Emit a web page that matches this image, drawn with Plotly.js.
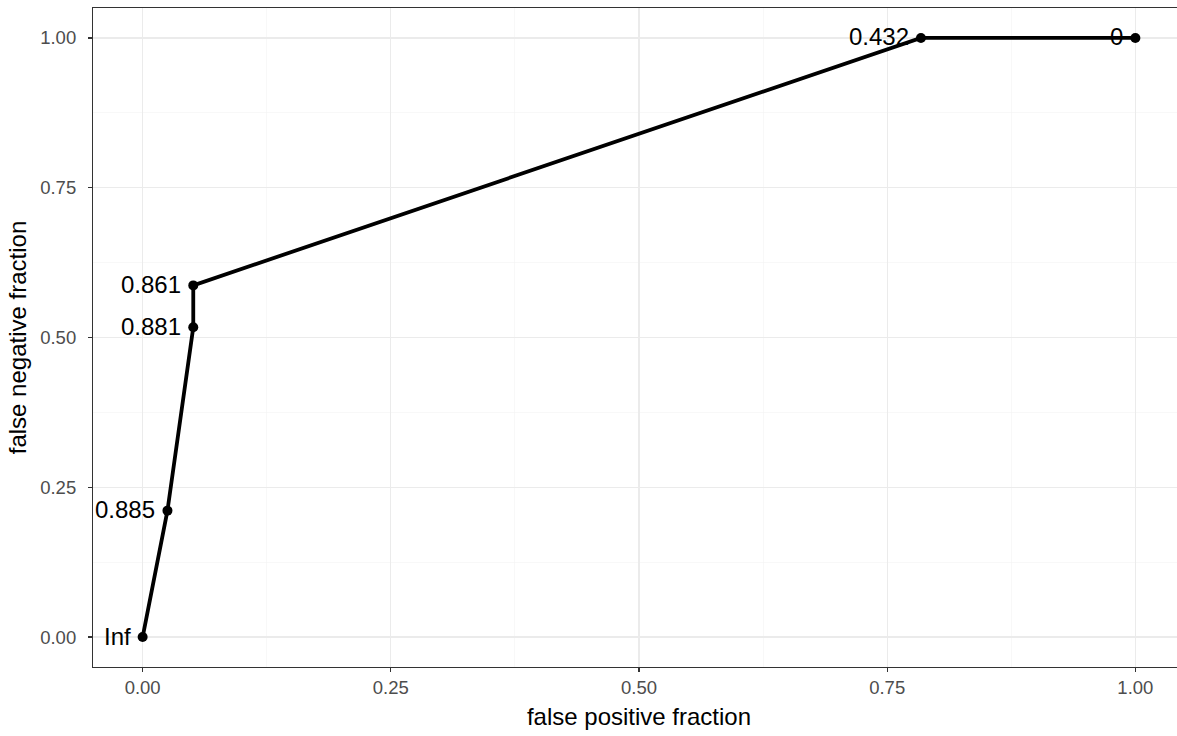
<!DOCTYPE html>
<html>
<head>
<meta charset="utf-8">
<script src="https://cdn.plot.ly/plotly-3.0.1.min.js"></script>
<style>html,body{margin:0;padding:0;background:#fff;overflow:hidden;}#chart{width:1192px;height:736px;}</style>
</head>
<body>
<div id="chart"></div>
<script>
var fpf = [0, 0.025, 0.051, 0.051, 0.784, 1];
var fnf = [0, 0.211, 0.517, 0.587, 1, 1];
var cutoffs = ["Inf", "0.885", "0.881", "0.861", "0.432", "0"];
var tickVals = [0, 0.25, 0.5, 0.75, 1];
var tickText = ["0.00", "0.25", "0.50", "0.75", "1.00"];

var FONT = "Liberation Sans, Arial, sans-serif";

var trace = {
  x: fpf, y: fnf, mode: "lines+markers", type: "scatter",
  line: {color: "#000", width: 3.8},
  marker: {color: "#000", size: 10},
  hoverinfo: "skip", showlegend: false
};

var annotations = cutoffs.map(function(t, i) {
  return {x: fpf[i], y: fnf[i], xref: "x", yref: "y", text: t, showarrow: false,
    xanchor: "right", yanchor: "middle", xshift: -10, yshift: 1,
    font: {family: FONT, size: 24, color: "#000"}};
});

var axisCommon = {
  tickvals: tickVals, ticktext: tickText,
  showgrid: true, gridcolor: "#ebebeb", gridwidth: 1.1,
  minor: {dtick: 0.125, tick0: 0, showgrid: true, gridcolor: "#f3f3f3", gridwidth: 0.6, ticks: ""},
  zeroline: false, showline: true, mirror: true, linecolor: "#333333", linewidth: 1.1,
  ticks: "outside", ticklen: 4, tickwidth: 1.1, tickcolor: "#333333",
  tickfont: {family: FONT, size: 18.5, color: "#4d4d4d"}
};

var layout = {
  width: 1192, height: 736,
  margin: {l: 93, r: 7, t: 8, b: 69},
  paper_bgcolor: "#fff", plot_bgcolor: "#fff",
  xaxis: Object.assign({}, axisCommon, {
    range: [-0.05, 1.05],
    title: {text: "false positive fraction", standoff: 10,
      font: {family: FONT, size: 24, color: "#000"}}
  }),
  yaxis: Object.assign({}, axisCommon, {
    range: [-0.05, 1.05],
    ticklabelstandoff: 8,
    title: {text: "false negative fraction", standoff: 6,
      font: {family: FONT, size: 24, color: "#000"}}
  }),
  annotations: annotations
};

Plotly.newPlot("chart", [trace], layout, {displayModeBar: false, staticPlot: true});
</script>
</body>
</html>
